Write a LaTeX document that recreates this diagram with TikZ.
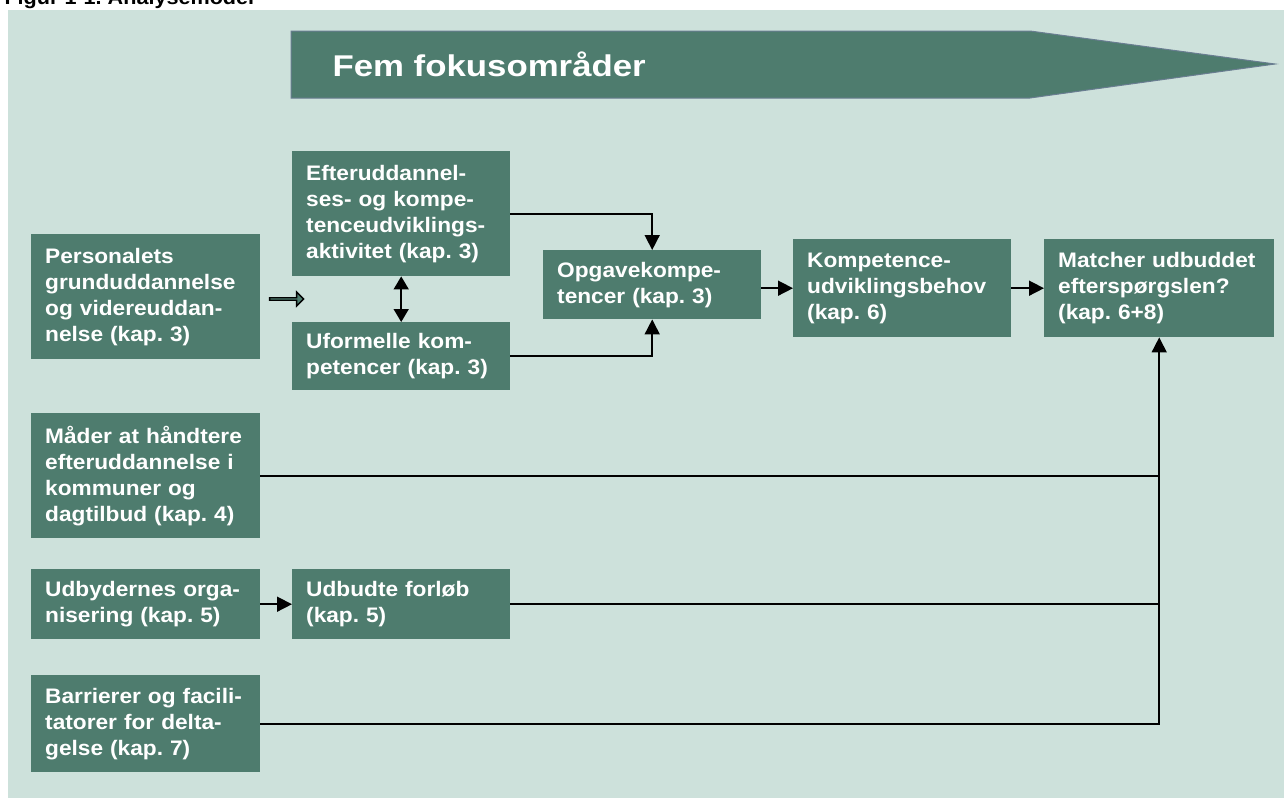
\documentclass[tikz,border=0pt]{standalone}
\usepackage{fontspec}
\setmainfont{Liberation Sans}
\newfontfamily\bredfont[FakeStretch=1.08]{Liberation Sans}
\newfontfamily\titelfont[FakeStretch=1.16]{Liberation Sans}
\usetikzlibrary{arrows.meta,positioning,shapes.arrows}
\frenchspacing

\definecolor{boksgroen}{RGB}{78,124,110}
\definecolor{baggrund}{RGB}{205,225,219}
\definecolor{kant}{RGB}{105,125,145}

\tikzset{
  boks/.style={fill=boksgroen, text=white, font=\bredfont\bfseries\fontsize{21}{26}\selectfont,
    align=left, anchor=north west, inner xsep=14pt, inner ysep=0pt},
  kolA/.style={minimum width=229pt, text width=201pt},
  kolB/.style={minimum width=218pt, text width=190pt},
  pil/.style={-{Triangle[length=15pt,width=15pt]}, line width=1.6pt},
  linje/.style={line width=1.6pt},
}

\begin{document}
\begin{tikzpicture}[x=1pt,y=-1pt]
\useasboundingbox (0,0) rectangle (1284,798);
\fill[baggrund] (8,10) rectangle (1284,798);
\node[anchor=base west, font=\bredfont\bfseries\fontsize{20}{24}\selectfont] (figur) at (1,4) {Figur 1-1. Analysemodel};

% banner
\filldraw[fill=boksgroen, draw=kant, line width=1pt]
  (291,31) -- (1030,31) -- (1275,64) -- (1030,98) -- (291,98) -- cycle;
\node[anchor=west, text=white, font=\titelfont\bfseries\fontsize{30}{34}\selectfont] (fokus) at (329,64) {Fem fokusområder};

% kasser
\node[boks,kolA,minimum height=125pt] (personale) at (31,234)
  {Personalets\\grunduddannelse\\og videreuddan-\\nelse (kap. 3)};
\node[boks,kolB,minimum height=125pt] (efter) at (292,151)
  {Efteruddannel-\\ses- og kompe-\\tenceudviklings-\\aktivitet (kap. 3)};
\node[boks,kolB,minimum height=68pt] (uformel) at (292,322)
  {Uformelle kom-\\petencer (kap. 3)};
\node[boks,kolB,minimum height=69pt] (opgave) at (543,250)
  {Opgavekompe-\\tencer (kap. 3)};
\node[boks,kolB,minimum height=98pt] (behov) at (793,239)
  {Kompetence-\\udviklingsbehov\\(kap. 6)};
\node[boks,minimum width=230pt,text width=202pt,minimum height=98pt] (match) at (1044,239)
  {Matcher udbuddet\\efterspørgslen?\\(kap. 6+8)};
\node[boks,kolA,minimum height=125pt] (maader) at (31,413)
  {Måder at håndtere\\efteruddannelse i\\kommuner og\\dagtilbud (kap. 4)};
\node[boks,kolA,minimum height=70pt] (udbyder) at (31,569)
  {Udbydernes orga-\\nisering (kap. 5)};
\node[boks,kolB,minimum height=70pt] (forloeb) at (292,569)
  {Udbudte forløb\\(kap. 5)};
\node[boks,kolA,minimum height=97pt] (barriere) at (31,675)
  {Barrierer og facili-\\tatorer for delta-\\gelse (kap. 7)};

\node[single arrow, fill=boksgroen, draw=black, line width=1.3pt, minimum width=14pt,
  minimum height=34pt, single arrow head extend=3pt, inner sep=0pt] (blokpil) at (286,299) {};

% forbindelser
\draw[pil] (efter) -| (opgave);
\draw[pil] (uformel) -| (opgave);
\draw[{Triangle[length=13pt,width=15pt]}-{Triangle[length=13pt,width=15pt]}, line width=1.6pt] (efter) -- (uformel);
\draw[pil] (opgave.east |- behov.west) -- (behov.west);
\draw[pil] (behov) -- (match);
\draw[pil] (udbyder) -- (forloeb);
\draw[linje] (maader) -- (maader -| match);
\draw[linje] (forloeb) -- (forloeb -| match);
\draw[pil] (barriere) -| (match);
\end{tikzpicture}
\end{document}
